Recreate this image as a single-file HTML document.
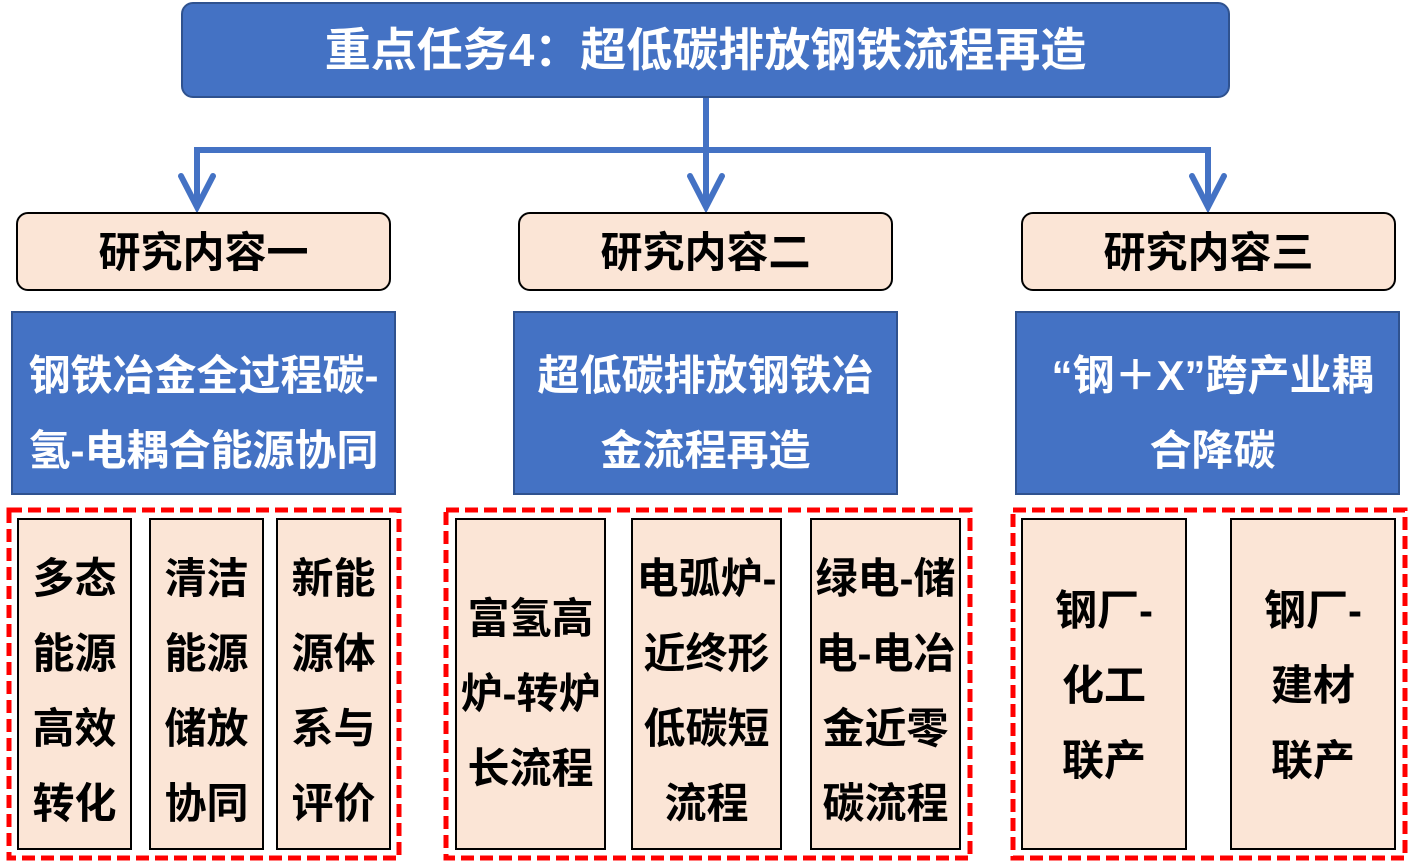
<!DOCTYPE html>
<html><head><meta charset="utf-8"><style>
body{margin:0;width:1410px;height:862px;background:#fff;position:relative;overflow:hidden;font-family:"Liberation Sans","Noto Sans CJK SC",sans-serif;font-weight:bold}
.a{position:absolute;box-sizing:border-box}
.blue{background:#4472C4;border:2px solid #2F528F;color:#fff}
.peach{background:#FBE5D6;border:2px solid #000;color:#000}
.t{position:absolute;left:0;right:0;text-align:center;white-space:nowrap}
.t div{height:75px;line-height:75px}
</style></head><body>
<div class="a blue" style="left:181px;top:2px;width:1049px;height:96px;border-radius:12px"><div class="t" style="top:0;line-height:92px;font-size:46px">重点任务4：超低碳排放钢铁流程再造</div></div>
<svg class="a" style="left:0;top:0" width="1410" height="220">
<g stroke="#4472C4" stroke-width="6" fill="none" stroke-linecap="butt">
<line x1="706" y1="98" x2="706" y2="206"/>
<polyline points="197,206 197,150 1208,150 1208,206"/>
<polyline points="181,176 197,207 213,176" stroke-linecap="round"/>
<polyline points="690,176 706,207 722,176" stroke-linecap="round"/>
<polyline points="1192,176 1208,207 1224,176" stroke-linecap="round"/>
</g></svg>
<div class="a peach" style="left:16px;top:212px;width:375px;height:79px;border-radius:12px"><div class="t" style="top:0;line-height:77px;font-size:42px">研究内容一</div></div>
<div class="a peach" style="left:518px;top:212px;width:375px;height:79px;border-radius:12px"><div class="t" style="top:0;line-height:77px;font-size:42px">研究内容二</div></div>
<div class="a peach" style="left:1021px;top:212px;width:375px;height:79px;border-radius:12px"><div class="t" style="top:0;line-height:77px;font-size:42px">研究内容三</div></div>

<div class="a blue" style="left:11px;top:311px;width:385px;height:184px;font-size:42px"><div class="t" style="top:25px"><div>钢铁冶金全过程碳-</div><div>氢-电耦合能源协同</div></div></div>
<div class="a blue" style="left:513px;top:311px;width:385px;height:184px;font-size:42px"><div class="t" style="top:25px"><div>超低碳排放钢铁冶</div><div>金流程再造</div></div></div>
<div class="a blue" style="left:1015px;top:311px;width:385px;height:184px;font-size:42px"><div class="t" style="top:25px;left:10px"><div>“钢＋X”跨产业耦</div><div>合降碳</div></div></div>

<svg class="a" style="left:0;top:0" width="1410" height="862">
<g fill="none" stroke="#FF0000" stroke-width="5" stroke-dasharray="13,6">
<rect x="9" y="510" width="390" height="348"/>
<rect x="446" y="510" width="524" height="348"/>
<rect x="1013" y="510" width="392" height="348"/>
</g></svg>

<div class="a peach" style="left:17px;top:518px;width:115px;height:332px;font-size:42px"><div class="t" style="top:21px"><div>多态</div><div>能源</div><div>高效</div><div>转化</div></div></div>
<div class="a peach" style="left:149px;top:518px;width:115px;height:332px;font-size:42px"><div class="t" style="top:21px"><div>清洁</div><div>能源</div><div>储放</div><div>协同</div></div></div>
<div class="a peach" style="left:276px;top:518px;width:115px;height:332px;font-size:42px"><div class="t" style="top:21px"><div>新能</div><div>源体</div><div>系与</div><div>评价</div></div></div>

<div class="a peach" style="left:455px;top:518px;width:151px;height:332px;font-size:42px"><div class="t" style="top:61px"><div>富氢高</div><div>炉-转炉</div><div>长流程</div></div></div>
<div class="a peach" style="left:631px;top:518px;width:151px;height:332px;font-size:42px"><div class="t" style="top:21px"><div>电弧炉-</div><div>近终形</div><div>低碳短</div><div>流程</div></div></div>
<div class="a peach" style="left:810px;top:518px;width:151px;height:332px;font-size:42px"><div class="t" style="top:21px"><div>绿电-储</div><div>电-电冶</div><div>金近零</div><div>碳流程</div></div></div>

<div class="a peach" style="left:1021px;top:518px;width:166px;height:332px;font-size:42px"><div class="t" style="top:53px"><div>钢厂-</div><div>化工</div><div>联产</div></div></div>
<div class="a peach" style="left:1230px;top:518px;width:166px;height:332px;font-size:42px"><div class="t" style="top:53px"><div>钢厂-</div><div>建材</div><div>联产</div></div></div>
</body></html>
